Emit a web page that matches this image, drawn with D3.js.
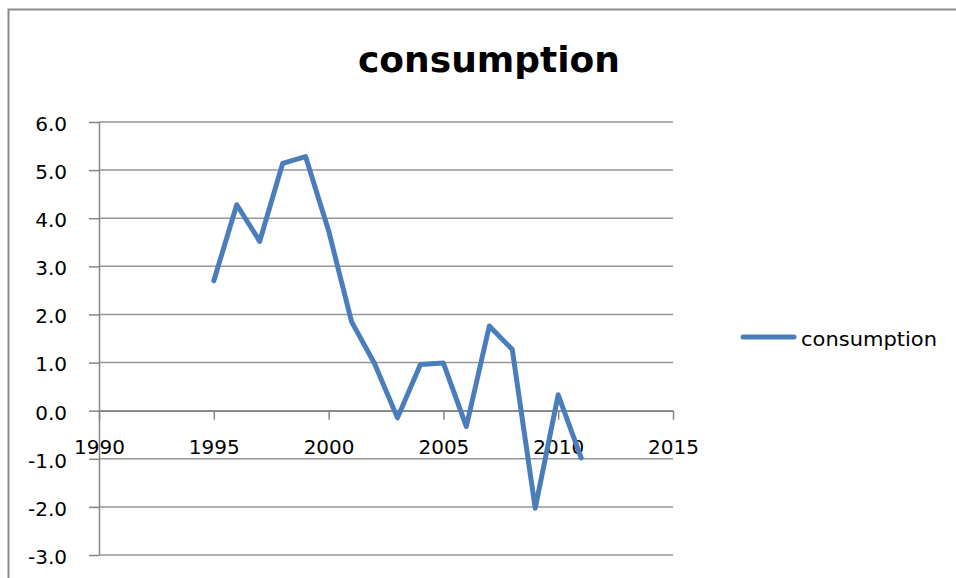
<!DOCTYPE html>
<html>
<head>
<meta charset="utf-8">
<script src="https://cdn.jsdelivr.net/npm/d3@7"></script>
<style>
  html, body { margin: 0; padding: 0; background: #ffffff; }
  svg { display: block; }
</style>
</head>
<body>
<svg id="chart" width="956" height="578"></svg>
<script>
// ---- data ----
const years = [1995, 1996, 1997, 1998, 1999, 2000, 2001, 2002, 2003, 2004, 2005, 2006, 2007, 2008, 2009, 2010, 2011];
const consumption = [2.7, 4.28, 3.52, 5.14, 5.28, 3.74, 1.85, 0.98, -0.15, 0.96, 0.99, -0.33, 1.76, 1.27, -2.03, 0.33, -0.98];
const xTicks = [1990, 1995, 2000, 2005, 2010, 2015];
const yTicks = [-3, -2, -1, 0, 1, 2, 3, 4, 5, 6];
const seriesName = "consumption";
const chartTitle = "consumption";

// ---- layout ----
const W = 956, H = 578;
const plot = { left: 99, right: 673, top: 122, bottom: 555 };
const lineColor = "#4a7ebb";
const axisColor = "#868686";
const gridColor = "#969696";
const font = "'DejaVu Sans', sans-serif";

const svg = d3.select("#chart");
svg.append("rect").attr("width", W).attr("height", H).attr("fill", "#ffffff");

// chart border (right and bottom edges are outside the picture)
svg.append("path")
  .attr("d", `M8.5,${H} V9.5 H${W}`)
  .attr("fill", "none").attr("stroke", "#8c8c8c").attr("stroke-width", 2);

const x = d3.scaleLinear().domain([1990, 2015]).range([plot.left, plot.right]);
const y = d3.scaleLinear().domain([-3, 6]).range([plot.bottom, plot.top]);

// gridlines
svg.append("g").selectAll("line").data(yTicks).join("line")
  .attr("x1", plot.left).attr("x2", plot.right)
  .attr("y1", d => y(d)).attr("y2", d => y(d))
  .attr("stroke", gridColor).attr("stroke-width", 1.5);

const fmtY = d => d3.format(".1f")(d).replace("\u2212", "-");

// y axis
const yAxis = svg.append("g")
  .attr("transform", `translate(${plot.left},0)`)
  .call(d3.axisLeft(y).tickValues(yTicks).tickFormat(fmtY)
    .tickSize(10).tickSizeOuter(0).tickPadding(22));
yAxis.select(".domain").attr("stroke", axisColor).attr("stroke-width", 1.5);
yAxis.selectAll(".tick line").attr("stroke", axisColor).attr("stroke-width", 1.5);
yAxis.selectAll(".tick text")
  .attr("font-family", font).attr("font-size", 20).attr("fill", "#000")
  .attr("dy", "0.42em");

// x axis (crosses at y = 0)
const xAxis = svg.append("g")
  .attr("transform", `translate(0,${y(0)})`)
  .call(d3.axisBottom(x).tickValues(xTicks).tickFormat(d3.format("d"))
    .tickSize(9).tickSizeOuter(0).tickPadding(20));
xAxis.select(".domain").attr("stroke", axisColor).attr("stroke-width", 1.5);
xAxis.selectAll(".tick line").attr("stroke", axisColor).attr("stroke-width", 1.5);
xAxis.selectAll(".tick text")
  .attr("font-family", font).attr("font-size", 20).attr("fill", "#000");

// series line
const pts = years.map((yr, i) => [yr, consumption[i]]);
svg.append("path")
  .datum(pts)
  .attr("fill", "none")
  .attr("stroke", lineColor)
  .attr("stroke-width", 5)
  .attr("stroke-linejoin", "round")
  .attr("stroke-linecap", "round")
  .attr("d", d3.line().x(d => x(d[0])).y(d => y(d[1])));

// title
svg.append("text")
  .attr("x", 489).attr("y", 72)
  .attr("text-anchor", "middle")
  .attr("font-family", font).attr("font-weight", "bold").attr("font-size", 35)
  .attr("textLength", 262).attr("lengthAdjust", "spacingAndGlyphs")
  .attr("fill", "#000")
  .text(chartTitle);

// legend
const lg = svg.append("g");
lg.append("line")
  .attr("x1", 743).attr("x2", 794).attr("y1", 337).attr("y2", 337)
  .attr("stroke", lineColor).attr("stroke-width", 5).attr("stroke-linecap", "round");
lg.append("text")
  .attr("x", 801).attr("y", 346)
  .attr("font-family", font).attr("font-size", 20)
  .attr("textLength", 136).attr("lengthAdjust", "spacingAndGlyphs")
  .attr("fill", "#000")
  .text(seriesName);
</script>
</body>
</html>
